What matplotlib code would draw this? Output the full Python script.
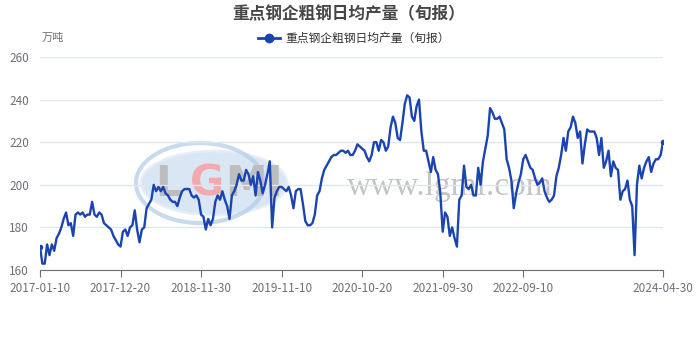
import numpy as np
import pandas as pd
import matplotlib
matplotlib.use('Agg')
import matplotlib.pyplot as plt
from matplotlib.patches import Ellipse

plt.rcParams['font.family'] = ['Noto Sans CJK SC', 'DejaVu Sans']

title = '重点钢企粗钢日均产量（旬报）'
unit = '万吨'

# dekad values (10th, 20th, month end), 2017-01-10 .. 2024-04-30
output = [
    171, 163, 163, 172, 167, 172, 169, 175, 177, 180,
    184, 187, 181, 182, 176, 186, 187, 186, 187, 185,
    186, 186, 192, 186, 185, 187, 186, 182, 181, 180,
    179, 176, 174, 172, 171, 178, 179, 176, 180, 181,
    188, 179, 173, 179, 180, 189, 191, 193, 200, 197,
    199, 197, 199, 196, 195, 193, 192, 192, 190, 194,
    197, 198, 198, 198, 195, 194, 195, 193, 186, 185,
    179, 184, 181, 184, 192, 195, 193, 197, 193, 190,
    184, 195, 197, 200, 205, 202, 202, 207, 205, 200,
    204, 195, 206, 202, 196, 200, 205, 211, 180, 194,
    197, 199, 199, 198, 197, 199, 195, 189, 197, 198,
    198, 191, 183, 181, 181, 182, 186, 195, 197, 203,
    207, 209, 211, 213, 214, 214, 215, 216, 216, 215,
    216, 214, 214, 216, 219, 218, 217, 216, 213, 211,
    214, 220, 220, 216, 221, 220, 216, 218, 227, 232,
    229, 222, 221, 229, 238, 242, 241, 232, 230, 237,
    240, 225, 216, 216, 211, 206, 213, 207, 205, 196,
    178, 187, 185, 176, 180, 175, 171, 193, 195, 209,
    199, 198, 200, 195, 195, 208, 200, 211, 217, 223,
    236, 234, 231, 231, 232, 229, 226, 212, 208, 202,
    189, 196, 201, 205, 212, 214, 211, 208, 207, 203,
    200, 201, 203, 197, 194, 192, 193, 195, 204, 208,
    214, 222, 216, 225, 227, 232, 229, 222, 225, 210,
    219, 226, 225, 225, 225, 222, 214, 222, 208, 211,
    216, 204, 211, 208, 207, 193, 197, 198, 202, 193,
    190, 167, 200, 209, 203, 208, 211, 213, 206, 210,
    212, 212, 214, 220,
]

dates = []
for y in range(2017, 2025):
    for m in range(1, 13):
        last = (pd.Timestamp(y, m, 1) + pd.offsets.MonthEnd(0)).day
        for d in (10, 20, last):
            dates.append(pd.Timestamp(y, m, d).strftime('%Y-%m-%d'))
dates = dates[dates.index('2017-01-10'):dates.index('2024-04-30') + 1]

tick_pos = [0, 34, 68, 102, 136, 170, 204, len(dates) - 1]

W, H = 698, 340
fig = plt.figure(figsize=(W / 100, H / 100), dpi=100)
ax = fig.add_axes([40 / W, 1 - 270 / H, 623 / W, 213 / H])
ax.set_zorder(5)
ax.set_facecolor('none')


def px(x, y):
    return x / W, 1 - y / H


# watermark (behind the axes)
fig.patches.append(Ellipse(px(214, 183), 146 / W, 64 / H, transform=fig.transFigure,
                           facecolor='#d3e2f3', edgecolor='#e6edf6', lw=2, alpha=0.85, zorder=0))
fig.patches.append(Ellipse(px(200, 183), 128 / W, 80 / H, transform=fig.transFigure,
                           facecolor='none', edgecolor='#b3cbe8', lw=3, alpha=0.7, zorder=0))
for ch, x, c in [('L', 168, '#bdbdbd'), ('G', 207, '#f4a9ae'), ('M', 246, '#bdbdbd'), ('I', 274, '#bdbdbd')]:
    fig.text(*px(x, 184), ch, ha='center', va='center', fontsize=30, fontweight='bold',
             color=c, family='DejaVu Sans', zorder=0)
fig.text(*px(450, 187), 'www.lgmi.com', ha='center', va='center', fontsize=24,
         color='#c4c4c4', family='Liberation Serif', zorder=0)

ax.plot(range(len(output)), output, color='#1a44b0', lw=1.7, zorder=3)
ax.plot([0, len(output) - 1], [output[0], output[-1]], 'o', color='#1a44b0', ms=3, zorder=4)

ax.set_xlim(0, len(dates) - 1)
ax.set_ylim(160, 260)
ax.set_yticks(range(160, 261, 20))
ax.set_xticks(tick_pos)
ax.set_xticklabels([dates[i] for i in tick_pos])
ax.grid(axis='y', color='#e0e6f1', lw=1)
ax.set_axisbelow(True)
for s in ['top', 'right', 'left']:
    ax.spines[s].set_visible(False)
ax.spines['bottom'].set_color('#6e7079')
ax.tick_params(axis='x', colors='#6e7079', length=5, labelcolor='#6e7079', labelsize=8.5, pad=4)
ax.tick_params(axis='y', length=0, labelcolor='#6e7079', labelsize=8.5, pad=8)

fig.text(0.5, 1 - 14 / H, title, ha='center', va='center', fontsize=12, fontweight='bold', color='#464646')
fig.text(*px(53, 38), unit, ha='center', va='center', fontsize=8, color='#6e7079')
fig.lines.append(plt.Line2D([258 / W, 280 / W], [1 - 38 / H] * 2, transform=fig.transFigure,
                            color='#1a44b0', lw=2))
fig.lines.append(plt.Line2D([269 / W], [1 - 38 / H], transform=fig.transFigure, marker='o',
                            ms=6, color='#1a44b0'))
fig.text(*px(285, 38), title, ha='left', va='center', fontsize=8.5, color='#333333')

fig.savefig('out.png', dpi=100)
